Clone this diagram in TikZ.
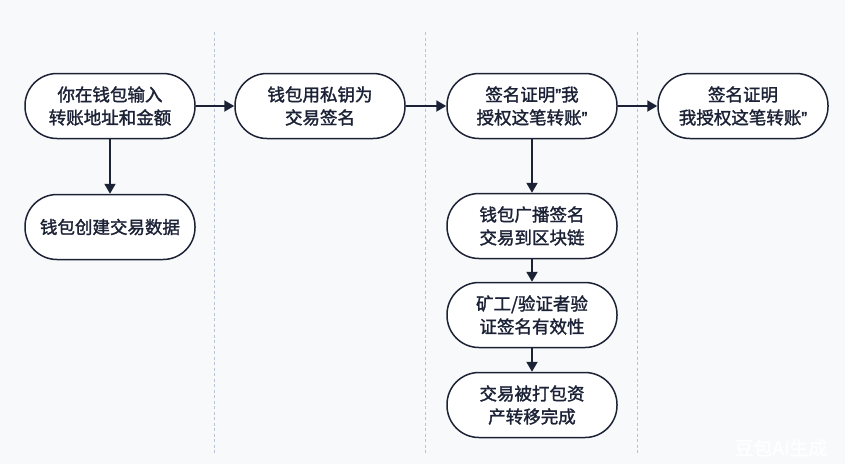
\documentclass[tikz,border=0pt]{standalone}
\usepackage{fontspec}
\setmainfont{Noto Sans CJK SC}[FakeBold=1.6]
\newfontfamily\latinq{Liberation Sans}[FakeBold=1.6]
\newcommand{\closeq}{{\latinq ”}}
\usetikzlibrary{arrows.meta}
\definecolor{ink}{HTML}{1C2236}
\definecolor{bg}{HTML}{F8F9FA}
\definecolor{sep}{HTML}{B8C2D6}
\tikzset{
  stepbox/.style={draw=ink, line width=1.5pt, fill=white, rounded corners=32pt,
    minimum width=170pt, minimum height=65pt, align=center, text=ink,
    font=\fontsize{17.5pt}{23pt}\selectfont, inner sep=0pt},
  flow/.style={draw=ink, line width=2pt, -{Triangle[length=10pt,width=11pt]}},
  divider/.style={draw=sep, line width=0.8pt, dash pattern=on 3pt off 2.5pt}
}
\begin{document}
\begin{tikzpicture}[x=1pt,y=-1pt]
\fill[bg] (0,0) rectangle (845,464);
\useasboundingbox (0,0) rectangle (845,464);
\foreach \xx in {214,425,637} \draw[divider] (\xx,32) -- (\xx,453);
\node[stepbox] (n1) at (110,106) {你在钱包输入\\转账地址和金额};
\node[stepbox] (n2) at (110,227) {钱包创建交易数据};
\node[stepbox] (n3) at (320,106) {钱包用私钥为\\交易签名};
\node[stepbox] (n4) at (532,106) {签名证明\closeq 我\\授权这笔转账\closeq};
\node[stepbox] (n5) at (743,106) {签名证明\\我授权这笔转账\closeq};
\node[stepbox] (n6) at (532,226) {钱包广播签名\\交易到区块链};
\node[stepbox] (n7) at (532,315) {矿工/验证者验\\证签名有效性};
\node[stepbox] (n8) at (532,405) {交易被打包资\\产转移完成};
\draw[flow] (n1) -- (n2);
\draw[flow] (n1) -- (n3);
\draw[flow] (n3) -- (n4);
\draw[flow] (n4) -- (n5);
\draw[flow] (n4) -- (n6);
\draw[flow] (n6) -- (n7);
\draw[flow] (n7) -- (n8);
\node[text=white, font=\fontsize{19pt}{19pt}\selectfont, inner sep=0pt] (wm) at (781,448) {豆包AI生成};
\end{tikzpicture}
\end{document}
